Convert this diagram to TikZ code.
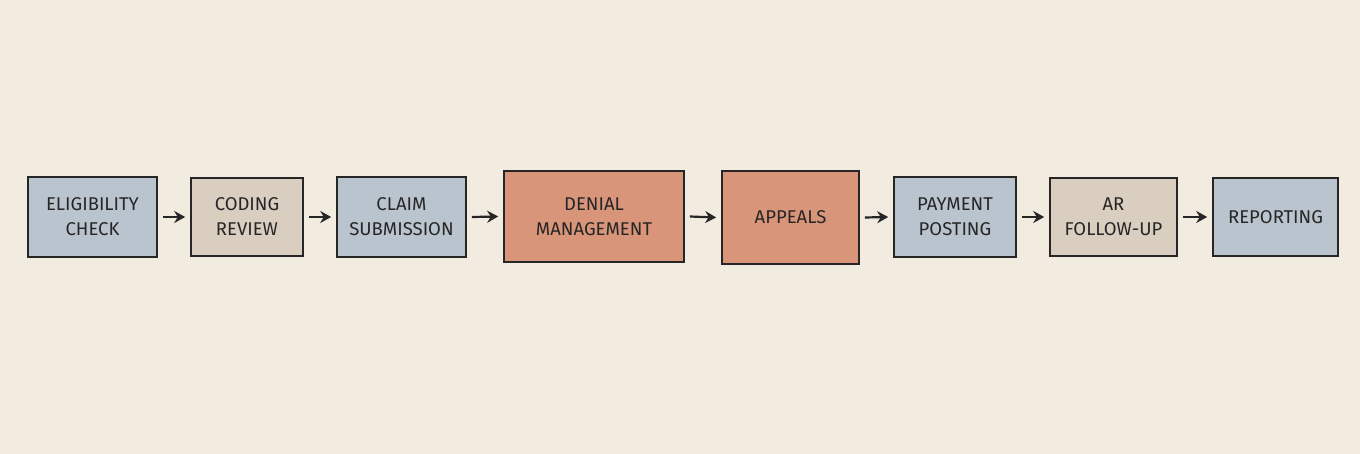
\documentclass[tikz,border=0pt]{standalone}
\usepackage{fontspec}
\setmainfont{Fira Sans}
\usetikzlibrary{arrows.meta}
\definecolor{bg}{HTML}{F1EBE0}
\definecolor{blueb}{HTML}{BAC4CE}
\definecolor{beigeb}{HTML}{D9CEC0}
\definecolor{orangeb}{HTML}{D9957A}
\definecolor{ink}{HTML}{262626}
\begin{document}
\begin{tikzpicture}[x=1pt,y=-1pt,
  box/.style={draw=ink,line width=1.6pt,align=center,inner sep=0pt,font=\fontsize{18.5}{25}\selectfont,text=ink},
  bluebox/.style={box,fill=blueb},
  beigebox/.style={box,fill=beigeb},
  orangebox/.style={box,fill=orangeb},
  conn/.style={draw=ink,line width=2.2pt,-{Stealth[length=11pt,width=12pt]}}]
\fill[bg] (0,0) rectangle (1360,454);
\useasboundingbox (0,0) rectangle (1360,454);
\node[bluebox,minimum width=129pt,minimum height=80pt] (a) at (92.5,217) {ELIGIBILITY\\CHECK};
\node[beigebox,minimum width=112pt,minimum height=78pt] (b) at (247,217) {CODING\\REVIEW};
\node[bluebox,minimum width=129pt,minimum height=80pt] (c) at (401.5,217) {CLAIM\\SUBMISSION};
\node[orangebox,minimum width=180pt,minimum height=91pt] (d) at (594,216.5) {DENIAL\\MANAGEMENT};
\node[orangebox,minimum width=137pt,minimum height=93pt] (e) at (790.5,217.5) {APPEALS};
\node[bluebox,minimum width=122pt,minimum height=80pt] (f) at (955,217) {PAYMENT\\POSTING};
\node[beigebox,minimum width=127pt,minimum height=78pt] (g) at (1113.5,217) {AR\\FOLLOW-UP};
\node[bluebox,minimum width=125pt,minimum height=78pt] (h) at (1275.5,217) {REPORTING};
\foreach \p/\q in {a/b,b/c,c/d,d/e,e/f,f/g,g/h}
  \draw[conn] ([xshift=5pt]\p.east) -- ([xshift=-5pt]\q.west);
\end{tikzpicture}
\end{document}
